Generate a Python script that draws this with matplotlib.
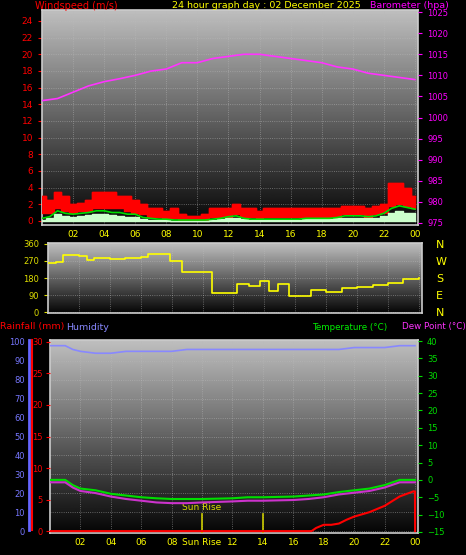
"""Weather station 24 hour graph: wind/barometer, wind direction, rain/humidity/temperature."""

import numpy as np
import matplotlib.pyplot as plt

# ── DATA ─────────────────────────────────────────────────────────────────────
title_text = "24 hour graph day : 02 December 2025"
hour_ticks = [2, 4, 6, 8, 10, 12, 14, 16, 18, 20, 22, 24]
hour_labels = ["02", "04", "06", "08", "10", "12", "14", "16", "18", "20", "22", "00"]
bottom_labels = ["02", "04", "06", "08", "Sun Rise", "12", "14", "16", "18", "20", "22", "00"]

press_hours = list(range(25))
pressure = [1004, 1004.5, 1006, 1007.5, 1008.5, 1009.2, 1010, 1011, 1011.5, 1013, 1013,
            1014, 1014.5, 1015, 1015, 1014.5, 1014, 1013.5, 1013, 1012, 1011.5, 1010.5,
            1010, 1009.5, 1009]

wind_hours = [h / 2 for h in range(49)]
gust_hi = [3, 2.5, 3.5, 3, 2, 2.2, 2.5, 3.5, 3.5, 3.5, 3, 3, 2.5, 2, 1.5, 1.5, 1.2, 1.5,
           0.8, 0.6, 0.6, 0.8, 1.5, 1.5, 1.5, 2, 1.5, 1.5, 1.2, 1.5, 1.5, 1.5, 1.5, 1.5,
           1.5, 1.5, 1.5, 1.5, 1.5, 1.8, 1.8, 1.8, 1.5, 1.8, 2, 4.5, 4.5, 4, 3]
gust_lo = [1, 1, 1.5, 1.2, 1, 1.2, 1.2, 1.5, 1.5, 1.5, 1.5, 1.2, 1, 0.8, 0.5, 0.5, 0.3, 0.3,
           0.1, 0.1, 0.1, 0.1, 0.5, 0.5, 0.5, 0.8, 0.5, 0.5, 0.3, 0.5, 0.5, 0.5, 0.5, 0.5,
           0.5, 0.5, 0.5, 0.5, 0.5, 0.8, 0.8, 0.8, 0.5, 0.8, 1, 1.8, 2, 1.8, 1.5]
wind_avg = [0.3, 0.5, 1.2, 0.9, 0.8, 0.9, 1.0, 1.2, 1.2, 1.0, 1.0, 0.8, 0.8, 0.4, 0.3, 0.2,
            0.2, 0.1, 0.1, 0.1, 0.1, 0.1, 0.2, 0.3, 0.5, 0.6, 0.3, 0.2, 0.2, 0.2, 0.2, 0.2,
            0.2, 0.2, 0.3, 0.3, 0.3, 0.3, 0.4, 0.6, 0.6, 0.6, 0.5, 0.6, 0.9, 1.5, 1.8, 1.6, 1.4]
wind_lull = [0.1, 0.3, 0.8, 0.6, 0.5, 0.6, 0.7, 0.8, 0.8, 0.7, 0.6, 0.5, 0.5, 0.2, 0.1, 0.1,
             0.1, 0, 0, 0, 0, 0, 0.1, 0.2, 0.3, 0.4, 0.2, 0.1, 0.1, 0.1, 0.1, 0.1,
             0.1, 0.1, 0.2, 0.2, 0.2, 0.2, 0.3, 0.4, 0.4, 0.4, 0.3, 0.4, 0.6, 1.0, 1.2, 1.0, 0.9]

dir_hours = [0, 0.5, 1, 2, 2.5, 3, 4, 5, 6, 6.5, 7.9, 8.7, 10.6, 12.2, 13.0, 13.7, 14.3, 14.9,
             15.6, 17, 18, 19, 20, 21, 22, 23, 24]
wind_dir = [260, 265, 300, 295, 275, 285, 280, 285, 290, 305, 270, 210, 100, 150, 140, 165,
            110, 150, 85, 115, 105, 125, 135, 145, 155, 175, 180]

temp_hours = [0, 1, 1.5, 2, 3, 4, 5, 6, 7, 8, 9, 10, 12, 13, 14, 16, 17, 18, 19, 20, 21,
              22, 23, 24]
humidity = [98, 98, 96, 95, 94, 94, 95, 95, 95, 95, 96, 96, 96, 96, 96, 96, 96, 96, 96,
            97, 97, 97, 98, 98]
temperature = [0, 0, -1.5, -2.5, -3, -4, -4.5, -5, -5.3, -5.5, -5.5, -5.5, -5.3, -5, -5,
               -4.8, -4.5, -4.2, -3.5, -3, -2.5, -1.5, 0, 0]
dew_point = [-0.7, -0.7, -2.2, -3.2, -3.8, -4.8, -5.5, -6, -6.5, -6.7, -6.7, -6.5, -6.2,
             -6, -6, -5.8, -5.5, -5, -4.2, -3.7, -3.2, -2.2, -0.7, -0.7]

rain_hours = [0, 17.2, 17.5, 18, 18.5, 19, 19.5, 20, 21, 22, 23, 23.9, 24, 24.01]
rainfall = [0, 0, 0.5, 1, 1, 1.2, 1.8, 2.3, 3, 4, 5.5, 6.3, 6.3, 0]

sun_lines = [10, 14]

# ── STYLE HELPERS ────────────────────────────────────────────────────────────
FS = 6.5
grad = np.linspace(0.75, 0.02, 256).reshape(-1, 1)


def style(ax, ylim):
    ax.set_facecolor("black")
    ax.imshow(grad, cmap="gray", vmin=0, vmax=1, aspect="auto",
              extent=[0, 1, 0, 1], transform=ax.transAxes, zorder=0)
    ax.set_xlim(0, 24.2)
    ax.set_ylim(*ylim)
    ax.grid(color="#bbbbbb", linestyle=":", linewidth=0.6, alpha=0.6)
    for s in ax.spines.values():
        s.set_color("#cccccc")
        s.set_linewidth(1.2)
    ax.set_xticks(hour_ticks)


fig = plt.figure(figsize=(4.66, 5.55), dpi=100, facecolor="black")

# ── TOP PANEL: wind speed and barometer ──────────────────────────────────────
ax1 = fig.add_axes([42 / 466, 1 - 225 / 555, 376 / 466, 215 / 555])
style(ax1, (-0.5, 25.3))
ax1.set_yticks(range(0, 25, 2))
ax1.tick_params(axis="y", colors="red", labelsize=FS, length=3)
ax1.tick_params(axis="x", colors="yellow", labelsize=FS, length=0)
ax1.set_xticklabels(hour_labels)
ax1.fill_between(wind_hours, gust_lo, gust_hi, step="mid", color="#ff0000", zorder=3)
ax1.step(wind_hours, gust_hi, where="mid", color="#ff0000", lw=1, zorder=3)
ax1.fill_between(wind_hours, 0, wind_lull, step="mid", color="#ccffcc", zorder=4)
ax1.plot(wind_hours, wind_avg, color="#00dd00", lw=1.2, zorder=5)
ax1b = ax1.twinx()
ax1b.set_ylim(974.5, 1025.5)
ax1b.set_yticks(range(975, 1026, 5))
ax1b.tick_params(axis="y", colors="#ff00ff", labelsize=FS - 0.5, length=3)
ax1b.plot(press_hours, pressure, color="#ff33ff", lw=1.2)
for s in ax1b.spines.values():
    s.set_visible(False)
fig.text(35 / 466, 1 - 6 / 555, "Windspeed (m/s)", color="red", fontsize=7, va="center")
fig.text(172 / 466, 1 - 6 / 555, title_text, color="yellow", fontsize=6.8, va="center")
fig.text(370 / 466, 1 - 6 / 555, "Barometer (hpa)", color="#ff00ff", fontsize=6.8, va="center")

# ── MIDDLE PANEL: wind direction ─────────────────────────────────────────────
ax2 = fig.add_axes([48 / 466, 1 - 313 / 555, 374 / 466, 70 / 555])
style(ax2, (-5, 365))
ax2.set_yticks([0, 90, 180, 270, 360])
ax2.tick_params(axis="y", colors="#dddd00", labelsize=FS - 0.5, length=3)
ax2.tick_params(axis="x", length=0, labelbottom=False)
ax2.step(dir_hours, wind_dir, where="post", color="yellow", lw=1.2, zorder=3)
for i, c in enumerate("NWSEN"):
    fig.text(436 / 466, 1 - (245 + i * 17) / 555, c, color="yellow", fontsize=8, va="center")

# ── BOTTOM PANEL: rainfall, humidity, temperature ────────────────────────────
ax3 = fig.add_axes([50 / 466, 1 - 533 / 555, 368 / 466, 193 / 555])
style(ax3, (-1, 101))
ax3.set_yticks(range(0, 101, 10))
ax3.tick_params(axis="y", colors="#7777ff", labelsize=FS - 0.5, length=0, pad=18)
ax3.tick_params(axis="x", colors="yellow", labelsize=FS, length=0)
ax3.set_xticklabels(bottom_labels)
ax3.plot(temp_hours, humidity, color="#8888ff", lw=1.2, zorder=3)
for x in sun_lines:
    ax3.plot([x, x], [-1, 9], color="#cccc00", lw=1.2, zorder=3)
ax3.text(10, 11, "Sun Rise", color="#dddd00", fontsize=FS, ha="center", zorder=4)

ax3r = ax3.twinx()
ax3r.set_ylim(-0.3, 30.3)
ax3r.yaxis.set_ticks_position("left")
ax3r.set_yticks(range(0, 31, 5))
ax3r.tick_params(axis="y", colors="red", labelsize=FS - 0.5, length=3, pad=2)
ax3r.plot(rain_hours, rainfall, color="red", lw=1.5, zorder=3)

ax3t = ax3.twinx()
ax3t.set_ylim(-15.3, 40.3)
ax3t.set_yticks(range(-15, 41, 5))
ax3t.tick_params(axis="y", colors="#00dd00", labelsize=FS - 0.5, length=3)
ax3t.plot(temp_hours, temperature, color="#00dd00", lw=1.5, zorder=3)
ax3t.plot(temp_hours, dew_point, color="#cc33cc", lw=1.5, zorder=3)
for a in (ax3r, ax3t):
    for s in a.spines.values():
        s.set_visible(False)

fig.add_artist(plt.Line2D([29 / 466, 29 / 466], [1 - 530 / 555, 1 - 340 / 555], color="#6666ff", lw=2))
fig.add_artist(plt.Line2D([32 / 466, 32 / 466], [1 - 530 / 555, 1 - 340 / 555], color="red", lw=1.5))
fig.text(0, 1 - 327 / 555, "Rainfall (mm)", color="red", fontsize=6.8, va="center")
fig.text(66 / 466, 1 - 327 / 555, "Humidity", color="#8888ff", fontsize=6.8, va="center")
fig.text(312 / 466, 1 - 327 / 555, "Temperature (°C)", color="#00ee00", fontsize=6.3, va="center")
fig.text(466 / 466, 1 - 327 / 555, "Dew Point (°C)", color="#ff33ff", fontsize=6.3, va="center", ha="right")

fig.savefig("out.png", dpi=100, facecolor="black")
